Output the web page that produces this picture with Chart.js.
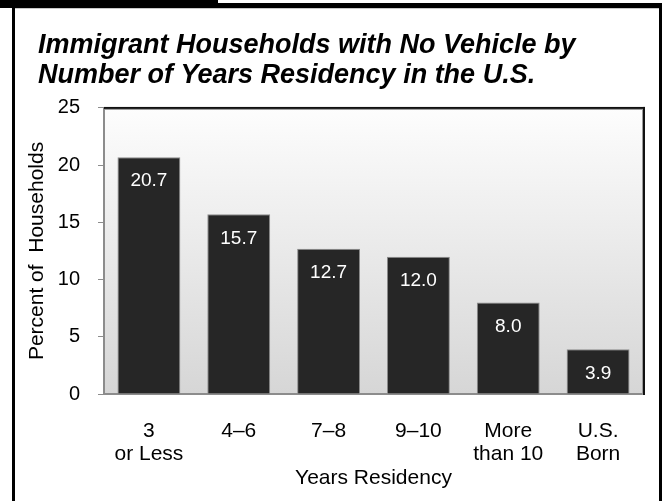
<!DOCTYPE html>
<html lang="en">
<head>
    <meta charset="UTF-8">
    <title>Immigrant Households with No Vehicle</title>
    <script src="https://cdn.jsdelivr.net/npm/chart.js"></script>
    <style>
        html, body { margin: 0; padding: 0; background: #fff; }
        #wrap { width: 666px; height: 501px; position: relative; }
    </style>
</head>
<body>
    <div id="wrap">
        <canvas id="vehicleChart"></canvas>
    </div>

    <script>
        // Data
        const categories = [['3', 'or Less'], '4\u20136', '7\u20138', '9\u201310', ['More', 'than 10'], ['U.S.', 'Born']];
        const percentNoVehicle = [20.7, 15.7, 12.7, 12.0, 8.0, 3.9];
        const yTicks = [0, 5, 10, 15, 20, 25];

        const FONT = "'Liberation Sans', Arial, sans-serif";

        // Outer frame with the black tab, plus gradient plot background
        const framePlugin = {
            id: 'frame',
            beforeDraw(chart) {
                const ctx = chart.ctx;
                const a = chart.chartArea;
                ctx.save();
                ctx.fillStyle = '#fff';
                ctx.fillRect(0, 0, chart.width, chart.height);
                ctx.fillStyle = '#000';
                ctx.fillRect(0, 0, 218, 8);
                ctx.fillRect(12, 3, 650, 5);
                ctx.fillRect(12, 3, 3, chart.height);
                ctx.fillRect(659, 3, 3, chart.height);
                ctx.fillStyle = '#c8c8c8';
                ctx.fillRect(15, 8, 644, 1);

                const g = ctx.createLinearGradient(0, a.top, 0, a.bottom);
                g.addColorStop(0, '#fdfdfd');
                g.addColorStop(1, '#d6d6d6');
                ctx.fillStyle = g;
                ctx.fillRect(a.left, a.top, a.right - a.left, a.bottom - a.top);
                ctx.restore();
            },
            afterDatasetsDraw(chart) {
                const ctx = chart.ctx;
                const a = chart.chartArea;
                ctx.save();
                ctx.fillStyle = '#111';
                ctx.fillRect(a.left, a.top - 1, a.right - a.left + 2, 2);
                ctx.fillRect(a.right, a.top - 1, 2, a.bottom - a.top + 2);
                ctx.fillStyle = '#9a9a9a';
                ctx.fillRect(a.left + 1, a.top + 1, a.right - a.left - 1, 1);
                ctx.fillRect(a.right - 1, a.top + 1, 1, a.bottom - a.top);
                ctx.restore();
            }
        };

        // White value labels inside the top of each bar
        const valueLabels = {
            id: 'valueLabels',
            afterDatasetsDraw(chart) {
                const ctx = chart.ctx;
                const meta = chart.getDatasetMeta(0);
                ctx.save();
                ctx.fillStyle = '#fff';
                ctx.font = '19px ' + FONT;
                ctx.textAlign = 'center';
                ctx.textBaseline = 'middle';
                meta.data.forEach((bar, i) => {
                    ctx.fillText(percentNoVehicle[i].toFixed(1), bar.x, bar.y + 24);
                });
                ctx.restore();
            }
        };

        const ctx = document.getElementById('vehicleChart').getContext('2d');

        new Chart(ctx, {
            type: 'bar',
            data: {
                labels: categories,
                datasets: [{
                    data: percentNoVehicle,
                    backgroundColor: '#262626',
                    borderColor: '#8c8c8c',
                    borderWidth: 1,
                    categoryPercentage: 1,
                    barPercentage: 0.7
                }]
            },
            options: {
                responsive: true,
                maintainAspectRatio: false,
                animation: false,
                layout: { padding: { left: 38, right: 23, top: 0, bottom: 0 } },
                plugins: {
                    legend: { display: false },
                    tooltip: { enabled: false },
                    title: {
                        display: true,
                        text: ['Immigrant Households with No Vehicle by', 'Number of Years Residency in the U.S.'],
                        align: 'start',
                        color: '#000',
                        font: { family: FONT, size: 27, weight: 'bold', style: 'italic', lineHeight: 1.11 },
                        padding: { top: 31, bottom: 17 }
                    }
                },
                scales: {
                    x: {
                        afterFit(scale) { scale.height = 107; },
                        grid: { display: false, drawTicks: false },
                        border: { display: true, color: '#8c8c8c', width: 2 },
                        ticks: {
                            color: '#000',
                            padding: 26,
                            font: { family: FONT, size: 21, lineHeight: 1.1 }
                        },
                        title: {
                            display: true,
                            text: 'Years Residency',
                            color: '#000',
                            font: { family: FONT, size: 21, lineHeight: 1.2 },
                            padding: { top: 0, bottom: 10 }
                        }
                    },
                    y: {
                        min: 0,
                        max: 25,
                        afterFit(scale) { scale.width = 66; },
                        afterBuildTicks(scale) { scale.ticks = yTicks.map(v => ({ value: v })); },
                        grid: {
                            drawOnChartArea: false,
                            drawTicks: true,
                            tickLength: 6,
                            color: '#8c8c8c'
                        },
                        border: { display: true, color: '#8c8c8c', width: 2 },
                        ticks: {
                            color: '#000',
                            padding: 18,
                            font: { family: FONT, size: 20 }
                        },
                        title: {
                            display: true,
                            text: 'Percent of  Households',
                            color: '#000',
                            font: { family: FONT, size: 21, lineHeight: 1.2 },
                            padding: { top: -13.6, bottom: 0 }
                        }
                    }
                }
            },
            plugins: [framePlugin, valueLabels]
        });
    </script>
</body>
</html>
